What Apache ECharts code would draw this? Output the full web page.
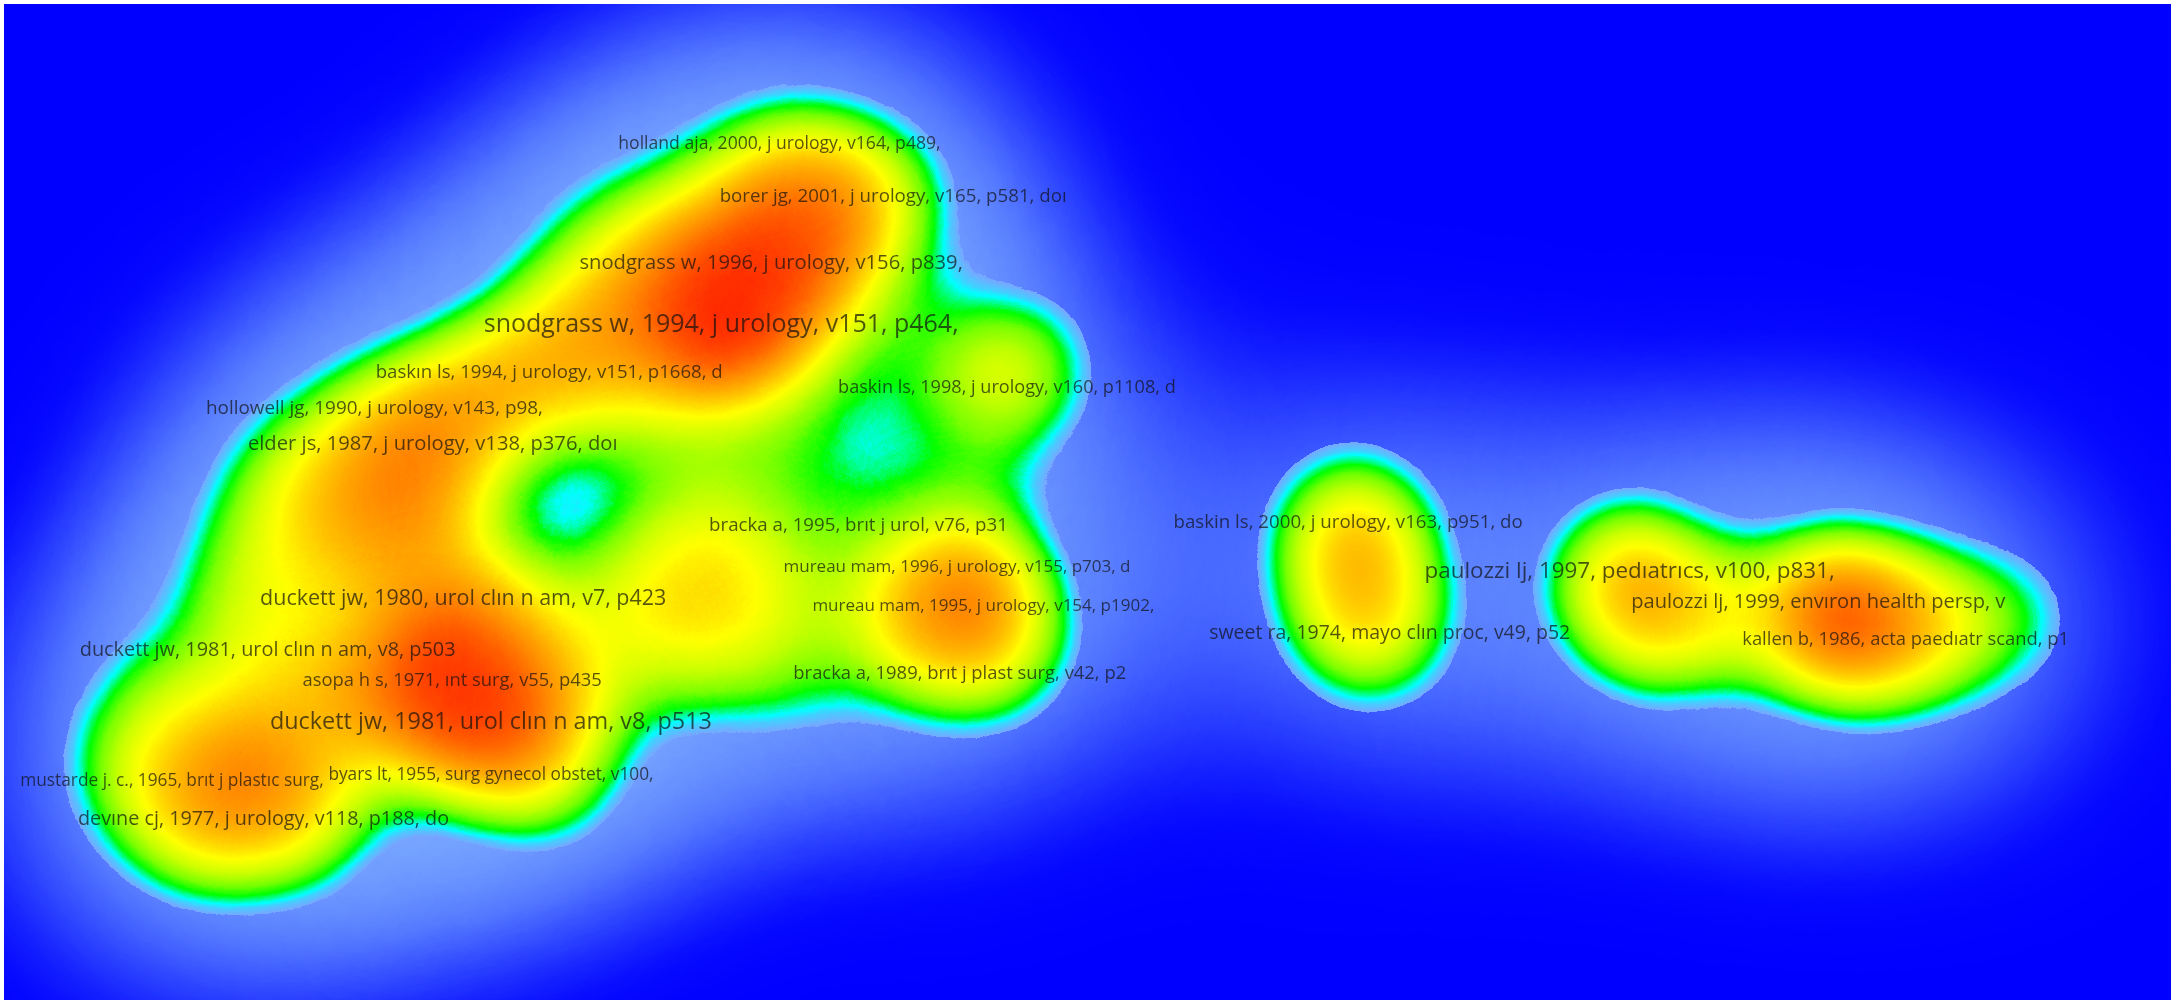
<!DOCTYPE html>
<html>
<head>
<meta charset="utf-8">
<script src="https://cdn.jsdelivr.net/npm/echarts@6/dist/echarts.min.js"></script>
<style>
html,body{margin:0;padding:0;background:#ffffff;}
#chart{width:2175px;height:1004px;}
</style>
</head>
<body>
<div id="chart"></div>
<script>
// ---- data: labelled items (map units, x right / y down) and their weights ----
const itemNames = [
  'holland aja, 2000, j urology, v164, p489,',
  'borer jg, 2001, j urology, v165, p581, doı',
  'snodgrass w, 1996, j urology, v156, p839,',
  'snodgrass w, 1994, j urology, v151, p464,',
  'baskın ls, 1994, j urology, v151, p1668, d',
  'baskin ls, 1998, j urology, v160, p1108, d',
  'hollowell jg, 1990, j urology, v143, p98,',
  'elder js, 1987, j urology, v138, p376, doı',
  'bracka a, 1995, brıt j urol, v76, p31',
  'mureau mam, 1996, j urology, v155, p703, d',
  'mureau mam, 1995, j urology, v154, p1902,',
  'duckett jw, 1980, urol clın n am, v7, p423',
  'duckett jw, 1981, urol clın n am, v8, p503',
  'asopa h s, 1971, ınt surg, v55, p435',
  'bracka a, 1989, brıt j plast surg, v42, p2',
  'duckett jw, 1981, urol clın n am, v8, p513',
  'mustarde j. c., 1965, brıt j plastıc surg,',
  'byars lt, 1955, surg gynecol obstet, v100,',
  'devıne cj, 1977, j urology, v118, p188, do',
  'baskin ls, 2000, j urology, v163, p951, do',
  'paulozzi lj, 1997, pedıatrıcs, v100, p831,',
  'paulozzi lj, 1999, envıron health persp, v',
  'sweet ra, 1974, mayo clın proc, v49, p52',
  'kallen b, 1986, acta paedıatr scand, p1'
];
const itemX = [562, 644, 556, 520, 396, 726, 270, 312, 619, 690, 709, 334, 193, 326, 692, 354, 124, 354, 190, 972, 1175, 1311, 1002, 1374];
const itemY = [104, 142, 190, 234, 269, 280, 295, 320, 379, 409, 437, 432, 469, 491, 486, 521, 563, 559, 591, 377, 412, 434, 457, 461];
const itemWeight = [26, 34, 46, 100, 33, 29, 35, 46, 34, 22, 22, 59, 44, 31, 31, 80, 24, 24, 43, 34, 68, 45, 40, 31];

// unlabelled items
const otherX = [545, 580, 500, 600, 625, 470, 430, 340, 300, 545, 420, 480, 380,
                731, 640, 575, 700,
                700, 650, 730, 560, 500, 520, 460, 520, 585,
                440, 495, 390,
                290, 250, 170, 220, 200,
                320, 300, 240, 180, 140, 230, 400, 400, 110, 450, 90,
                978, 978, 1200, 1240, 1330, 1400, 1455, 1330, 1165];
const otherY = [205, 175, 250, 135, 150, 190, 240, 285, 330, 125, 180, 140, 260,
                262, 250, 310, 345,
                430, 450, 470, 430, 440, 390, 420, 485, 495,
                295, 355, 425,
                380, 400, 420, 330, 360,
                480, 510, 500, 550, 600, 590, 500, 560, 500, 470, 560,
                385, 450, 455, 445, 445, 450, 445, 465, 430];
const otherWeight = [80, 60, 55, 45, 35, 50, 50, 55, 55, 35, 35, 30, 45,
                     60, 40, 40, 30,
                     75, 50, 35, 40, 40, 40, 35, 35, 30,
                     35, 35, 35,
                     60, 50, 45, 40, 40,
                     80, 60, 60, 70, 55, 50, 50, 50, 45, 30, 40,
                     70, 60, 50, 40, 90, 50, 40, 30, 35];

// ---- styling ----
const coreStops = [
  [0.000, 0,0,255,0], [0.295, 115,170,255,0], [0.305, 115,170,255,1], [0.345, 70,205,255,1],
  [0.375, 0,255,255,1], [0.405, 0,255,130,1], [0.435, 0,255,0,1], [0.500, 120,255,0,1],
  [0.580, 200,255,0,1], [0.660, 255,255,0,1], [0.740, 255,195,0,1], [0.820, 255,140,0,1],
  [0.900, 255,75,0,1], [0.970, 255,20,0,1], [1.000, 255,0,0,1]
];
const haloStops = [[0, 0,0,255,1], [0.3, 20,30,255,1], [0.55, 60,95,255,1], [0.8, 105,150,255,1], [1, 130,178,255,1]];
function buildScale(stops, n){
  const out=[];
  for(let i=0;i<n;i++){
    const t=i/(n-1);
    let k=0; while(k<stops.length-2 && t>stops[k+1][0]) k++;
    const a=stops[k], b=stops[k+1];
    const f=Math.max(0,Math.min(1,(t-a[0])/(b[0]-a[0])));
    const c=[1,2,3,4].map(j=>a[j]+(b[j]-a[j])*f);
    out.push('rgba('+Math.round(c[0])+','+Math.round(c[1])+','+Math.round(c[2])+','+c[3].toFixed(3)+')');
  }
  return out;
}
const coreColors = buildScale(coreStops, 201);
const haloColors = buildScale(haloStops, 101);

// map extent (map units)
const MX0=2.9, MY0=2.9, MX1=1565.3, MY1=721.1;
echarts.registerMap('field', {
  type:'FeatureCollection',
  features:[{type:'Feature',properties:{name:'field'},
    geometry:{type:'Polygon',coordinates:[[[MX0,-MY0],[MX1,-MY0],[MX1,-MY1],[MX0,-MY1],[MX0,-MY0]]]}}]
});

const densityData = itemX.map((x,i)=>[x, -itemY[i], itemWeight[i]])
  .concat(otherX.map((x,i)=>[x, -otherY[i], otherWeight[i]]));
const labelData = itemNames.map((n,i)=>({name:n, value:[itemX[i], -itemY[i]],
  label:{fontSize: Math.round((10 + 1.5*Math.sqrt(itemWeight[i]))*10)/10}}));

const chart = echarts.init(document.getElementById('chart'), null, {renderer:'canvas'});
chart.setOption({
  animation:false,
  backgroundColor:'#ffffff',
  geo:{
    map:'field', left:4, top:4, width:2167, height:996, aspectScale:1, roam:false, silent:true,
    itemStyle:{areaColor:'#0000ff', borderWidth:0},
    emphasis:{disabled:true}, select:{disabled:true}, label:{show:false}
  },
  visualMap:[
    {type:'continuous', show:false, min:0, max:85, seriesIndex:0,
     inRange:{color: haloColors}, outOfRange:{color: haloColors}},
    {type:'continuous', show:false, min:0, max:100, seriesIndex:1,
     inRange:{color: coreColors}, outOfRange:{color: coreColors}}
  ],
  series:[
    {type:'heatmap', coordinateSystem:'geo', data:densityData,
     pointSize:160, blurSize:320, minOpacity:0, maxOpacity:1, silent:true, z:1},
    {type:'heatmap', coordinateSystem:'geo', data:densityData,
     pointSize:80, blurSize:100, minOpacity:1, maxOpacity:1, silent:true, z:2},
    {type:'scatter', coordinateSystem:'geo', data:labelData, symbolSize:0, silent:true, z:5,
     itemStyle:{color:'transparent'},
     label:{show:true, position:'inside', formatter:'{b}', color:'rgba(15,15,15,0.88)',
       fontFamily:'Open Sans'}}
  ]
});
</script>
</body>
</html>
